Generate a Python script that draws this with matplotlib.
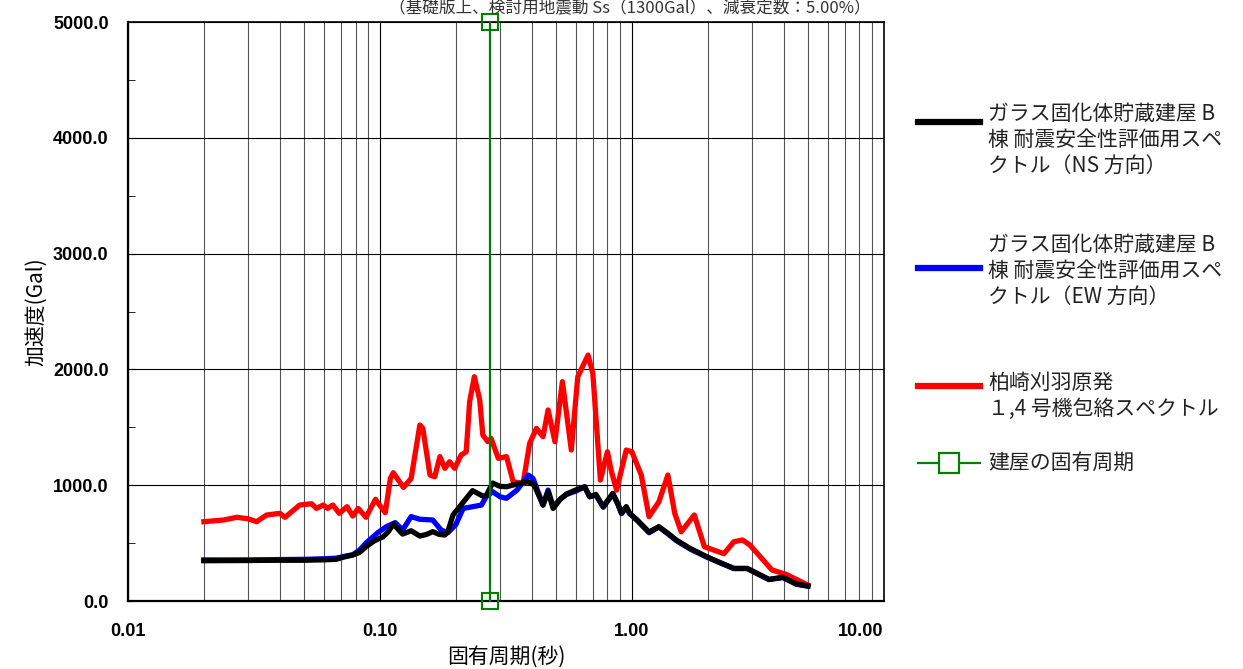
import numpy as np
import matplotlib.pyplot as plt
from matplotlib.lines import Line2D
from matplotlib.ticker import FixedLocator, MultipleLocator, FormatStrFormatter

plt.rcParams['font.family'] = ['Liberation Sans', 'Noto Sans CJK JP', 'DejaVu Sans']

# NS spectrum (black)
ns_period = [0.02, 0.03, 0.04, 0.05, 0.06, 0.067, 0.072, 0.078, 0.083, 0.088, 0.095,
             0.103, 0.108, 0.113, 0.118, 0.123, 0.133, 0.144, 0.153, 0.162, 0.172,
             0.181, 0.186, 0.195, 0.21, 0.233, 0.256, 0.264, 0.28, 0.30, 0.318, 0.35,
             0.388, 0.41, 0.444, 0.465, 0.487, 0.52, 0.55, 0.60, 0.65, 0.68, 0.72,
             0.77, 0.84, 0.88, 0.91, 0.95, 0.98, 1.05, 1.17, 1.28, 1.40, 1.50, 1.70,
             1.98, 2.25, 2.54, 2.87, 3.2, 3.5, 3.98, 4.5, 5.0]
ns_acc = [348, 350, 352, 352, 356, 360, 380, 397, 420, 469, 520,
          555, 600, 665, 620, 578, 607, 561, 575, 599, 575,
          570, 600, 743, 830, 953, 907, 910, 1019, 990, 987, 1010,
          1030, 1000, 829, 944, 799, 880, 924, 960, 987, 901, 920,
          815, 930, 840, 757, 815, 757, 700, 596, 642, 580, 527, 455,
          383, 330, 282, 282, 230, 187, 205, 147, 130]

# EW spectrum (blue)
ew_period = [0.02, 0.03, 0.04, 0.05, 0.06, 0.067, 0.072, 0.078, 0.083, 0.088, 0.098,
             0.106, 0.115, 0.123, 0.133, 0.144, 0.162, 0.175, 0.186, 0.20, 0.214,
             0.234, 0.253, 0.264, 0.28, 0.30, 0.318, 0.35, 0.388, 0.405, 0.444,
             0.465, 0.487, 0.52, 0.55, 0.60, 0.65, 0.68, 0.72, 0.77, 0.84, 0.88,
             0.91, 0.95, 0.98, 1.05, 1.17, 1.28, 1.40, 1.50, 1.70, 1.98, 2.25,
             2.54, 2.87, 3.2, 3.5, 3.98, 4.5, 5.0]
ew_acc = [355, 355, 358, 360, 365, 370, 385, 400, 440, 500, 590,
          642, 677, 613, 729, 706, 700, 613, 590, 660, 800,
          815, 829, 901, 944, 900, 887, 958, 1088, 1059, 829,
          958, 815, 880, 920, 950, 985, 900, 915, 810, 925, 835,
          755, 810, 755, 695, 590, 640, 575, 522, 450, 380, 328,
          280, 280, 228, 185, 203, 145, 128]

# Kashiwazaki-Kariwa envelope (red)
kk_period = [0.02, 0.024, 0.027, 0.030, 0.0324, 0.0355, 0.04, 0.042, 0.048, 0.0535,
             0.056, 0.0595, 0.062, 0.065, 0.069, 0.074, 0.078, 0.082, 0.088, 0.096,
             0.105, 0.11, 0.113, 0.124, 0.133, 0.144, 0.148, 0.158, 0.165, 0.173,
             0.181, 0.189, 0.198, 0.21, 0.22, 0.227, 0.237, 0.249, 0.256, 0.268,
             0.276, 0.295, 0.318, 0.338, 0.37, 0.393, 0.418, 0.444, 0.465, 0.495,
             0.53, 0.575, 0.61, 0.67, 0.70, 0.75, 0.80, 0.83, 0.87, 0.95, 1.0,
             1.09, 1.17, 1.28, 1.39, 1.48, 1.57, 1.77, 1.94, 2.32, 2.54, 2.75,
             2.94, 3.6, 4.1, 5.0]
kk_acc = [685, 700, 723, 710, 685, 743, 757, 723, 829, 840,
          800, 829, 800, 829, 757, 815, 734, 800, 723, 878,
          763, 1059, 1108, 981, 1059, 1520, 1491, 1088, 1073, 1247,
          1146, 1203, 1146, 1261, 1289, 1721, 1937, 1736, 1434, 1376,
          1405, 1232, 1247, 1030, 1016, 1362, 1491, 1419, 1650, 1376,
          1894, 1304, 1937, 2124, 1966, 1045, 1289, 1117, 958, 1304, 1289,
          1088, 728, 857, 1088, 757, 598, 743, 469, 409, 512, 527,
          484, 268, 230, 138]

# building natural period (green)
bld_period = [0.273, 0.273]
bld_acc = [0, 5000]

legend_labels = ['ガラス固化体貯蔵建屋 B\n棟 耐震安全性評価用スペ\nクトル（NS 方向）',
                 'ガラス固化体貯蔵建屋 B\n棟 耐震安全性評価用スペ\nクトル（EW 方向）',
                 '柏崎刈羽原発\n１,4 号機包絡スペクトル',
                 '建屋の固有周期']

fig = plt.figure(figsize=(12.43, 6.69), dpi=100)
ax = fig.add_axes([0.103, 0.1016, 0.608, 0.8655])

ax.plot(kk_period, kk_acc, color='red', lw=3.8, solid_joinstyle='round', zorder=3)
ax.plot(ew_period, ew_acc, color='blue', lw=3.8, solid_joinstyle='round', zorder=4)
ax.plot(ns_period, ns_acc, color='black', lw=3.8, solid_joinstyle='round', zorder=5)
ax.plot(bld_period, bld_acc, color='green', lw=1.6, marker='s', ms=11,
        mfc='none', mec='green', mew=1.5, zorder=6, clip_on=False)

ax.set_xscale('log')
ax.set_xlim(0.01, 10)
ax.set_ylim(0, 5000)
ax.xaxis.set_major_locator(FixedLocator([0.01, 0.1, 1, 10]))
ax.xaxis.set_major_formatter(FormatStrFormatter('%.2f'))
ax.xaxis.set_minor_formatter(plt.NullFormatter())
ax.yaxis.set_major_locator(MultipleLocator(1000))
ax.yaxis.set_minor_locator(MultipleLocator(500))
ax.yaxis.set_major_formatter(FormatStrFormatter('%.1f'))

ax.grid(which='major', axis='both', color='black', lw=0.8)
ax.grid(which='minor', axis='x', color='#555555', lw=0.8)
ax.tick_params(axis='x', which='both', length=0, pad=16, labelsize=13)
ax.tick_params(axis='y', which='major', direction='in', length=5, pad=14, labelsize=13)
ax.tick_params(axis='y', which='minor', direction='in', length=5)
for lbl in ax.get_xticklabels() + ax.get_yticklabels():
    lbl.set_fontweight('bold')
ax.get_xticklabels()[-1].set_horizontalalignment('right')
for s in ['left', 'bottom']:
    ax.spines[s].set_linewidth(1.6)
for s in ['top', 'right']:
    ax.spines[s].set_linewidth(1.2)

ax.set_ylabel('加速度(Gal)', family=['Noto Sans CJK JP'], fontsize=15, labelpad=4)
ax.set_xlabel('固有周期(秒)', family=['Noto Sans CJK JP'], fontsize=15, labelpad=4)

fig.text(0.507, 1.0, '（基礎版上、検討用地震動 Ss（1300Gal）、減衰定数：5.00%）',
         ha='center', va='top', fontsize=12, family=['Noto Sans CJK JP'], color='#333333')

# legend drawn by hand to keep the spaced multi-line layout
W, H = 1243, 669
leg_items = [('black', 122, 140, None), ('blue', 268, 271, None),
             ('red', 386, 396, None), ('green', 463, 463, 's')]
for (col, ly, ty, mk), label in zip(leg_items, legend_labels):
    if mk:
        fig.add_artist(Line2D([918 / W, 980 / W], [1 - ly / H] * 2, color=col, lw=1.6))
        fig.add_artist(Line2D([949 / W], [1 - ly / H], color=col, marker=mk, ms=14,
                              mfc='white', mec=col, mew=1.6))
    else:
        fig.add_artist(Line2D([918 / W, 980 / W], [1 - ly / H] * 2, color=col, lw=4.5))
    fig.text(988 / W, 1 - ty / H, label, ha='left', va='center', fontsize=15,
             family=['Noto Sans CJK JP'], linespacing=1.24, color='#222222')

fig.savefig('out.png', dpi=100)
